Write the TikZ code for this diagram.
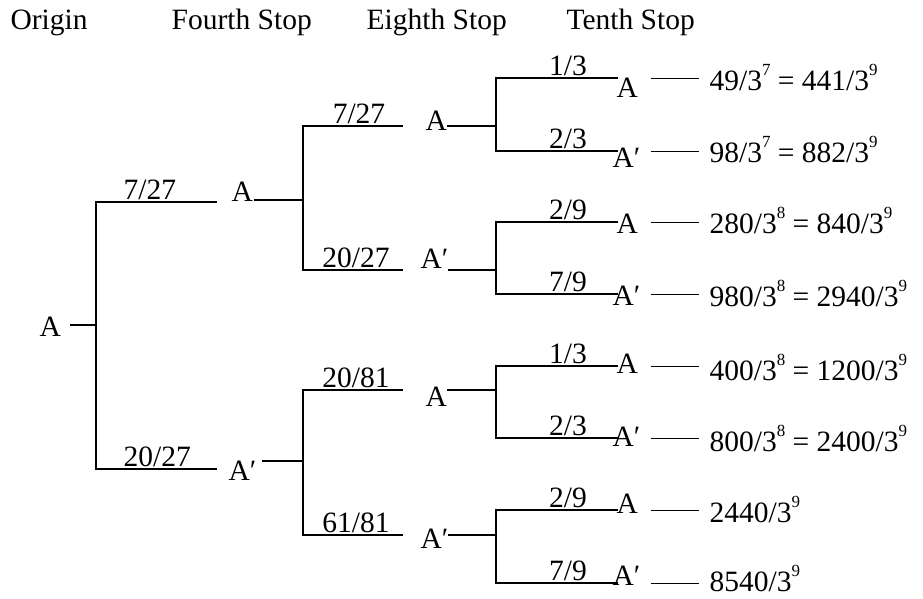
\documentclass[tikz,border=0pt]{standalone}
\usepackage{fontspec}
\setmainfont{Liberation Serif}
% small raised exponent
\newcommand\pw[1]{\raisebox{0.48em}{\fontsize{17}{17}\selectfont #1}}
\begin{document}
\begin{tikzpicture}[x=1pt,y=-1pt,
  line width=1.2pt,
  txt/.style={font=\fontsize{29.5}{31}\selectfont, inner sep=0pt, anchor=base west},
  lab/.style={font=\fontsize{29.5}{31}\selectfont, inner sep=0pt, anchor=base},
  branch/.style={draw, line cap=rect}]
\useasboundingbox (0,0) rectangle (923,598);

% column headings
\node[txt] (hOrigin) at (10,29) {Origin};
\node[txt] (hFourth) at (171,29) {Fourth Stop};
\node[txt] (hEighth) at (366,29) {Eighth Stop};
\node[txt] (hTenth)  at (566,29) {Tenth Stop};

% ---------- origin ----------
\node[txt] (r) at (39,336) {A};
\coordinate (r-out) at (71,325);
\coordinate (j0) at (96,325);
\coordinate (j0t) at (96,202);
\coordinate (j0b) at (96,469);
\coordinate (e0t) at (216,202);
\coordinate (e0b) at (216,469);
\draw[branch] (r-out) -- (j0);
\draw[branch] (e0t) -- (j0t) -- (j0b) -- (e0b);
\node[txt] (p0t) at (123,199) {7/27};
\node[txt] (p0b) at (123,466) {20/27};

% ---------- fourth stop ----------
\node[txt] (f1) at (231,201) {A};
\node[txt] (f2) at (228,480) {A′};

\coordinate (f1-out) at (255,200);
\coordinate (j1) at (303,200);
\coordinate (j1t) at (303,126);
\coordinate (j1b) at (303,270);
\coordinate (e1t) at (402,126);
\coordinate (e1b) at (402,270);
\draw[branch] (f1-out) -- (j1);
\draw[branch] (e1t) -- (j1t) -- (j1b) -- (e1b);
\node[lab] (p1t) at (359,123) {7/27};
\node[lab] (p1b) at (356,267) {20/27};

\coordinate (f2-out) at (263,461);
\coordinate (j2) at (303,461);
\coordinate (j2t) at (303,390);
\coordinate (j2b) at (303,535);
\coordinate (e2t) at (402,390);
\coordinate (e2b) at (402,535);
\draw[branch] (f2-out) -- (j2);
\draw[branch] (e2t) -- (j2t) -- (j2b) -- (e2b);
\node[lab] (p2t) at (356,387) {20/81};
\node[lab] (p2b) at (356,532) {61/81};

% ---------- eighth stop ----------
\node[txt] (g1) at (425,130) {A};
\node[txt] (g2) at (420,268) {A′};
\node[txt] (g3) at (425,406) {A};
\node[txt] (g4) at (420,548) {A′};

% groups of the last step: top y, joint y, bottom y
\foreach \n/\ya/\yj/\yb/\xo in {1/78/126/151/448, 2/222/270/294/449, 3/366/390/438/448, 4/510/535/583/449}{
  \coordinate (g\n-out) at (\xo,\yj);
  \coordinate (k\n) at (496,\yj);
  \coordinate (k\n t) at (496,\ya);
  \coordinate (k\n b) at (496,\yb);
  \coordinate (t\n t) at (617,\ya);
  \coordinate (t\n b) at (617,\yb);
  \draw[branch] (g\n-out) -- (k\n);
  \draw[branch] (t\n t) -- (k\n t) -- (k\n b) -- (t\n b);
}

\node[lab] (q1t) at (568,75)  {1/3};
\node[lab] (q1b) at (568,148) {2/3};
\node[lab] (q2t) at (568,219) {2/9};
\node[lab] (q2b) at (568,291) {7/9};
\node[lab] (q3t) at (568,363) {1/3};
\node[lab] (q3b) at (568,435) {2/3};
\node[lab] (q4t) at (568,507) {2/9};
\node[lab] (q4b) at (568,580) {7/9};

% ---------- tenth stop ----------
\node[txt] (l1) at (616,97)  {A};
\node[txt] (l2) at (612,167) {A′};
\node[txt] (l3) at (616,233) {A};
\node[txt] (l4) at (612,305) {A′};
\node[txt] (l5) at (616,373) {A};
\node[txt] (l6) at (612,446) {A′};
\node[txt] (l7) at (616,513) {A};
\node[txt] (l8) at (612,585) {A′};

\foreach \i/\y in {1/78,2/151,3/222,4/294,5/366,6/438,7/510,8/583}{
  \coordinate (l\i-a) at (651,\y);
  \coordinate (l\i-b) at (699,\y);
  \draw[line width=1pt] (l\i-a) -- (l\i-b);
}

\node[txt] (v1) at (709,90)  {49/3\pw{7} = 441/3\pw{9}};
\node[txt] (v2) at (709,162) {98/3\pw{7} = 882/3\pw{9}};
\node[txt] (v3) at (709,233) {280/3\pw{8} = 840/3\pw{9}};
\node[txt] (v4) at (709,306) {980/3\pw{8} = 2940/3\pw{9}};
\node[txt] (v5) at (709,380) {400/3\pw{8} = 1200/3\pw{9}};
\node[txt] (v6) at (709,451) {800/3\pw{8} = 2400/3\pw{9}};
\node[txt] (v7) at (709,522) {2440/3\pw{9}};
\node[txt] (v8) at (709,591) {8540/3\pw{9}};
\end{tikzpicture}
\end{document}
